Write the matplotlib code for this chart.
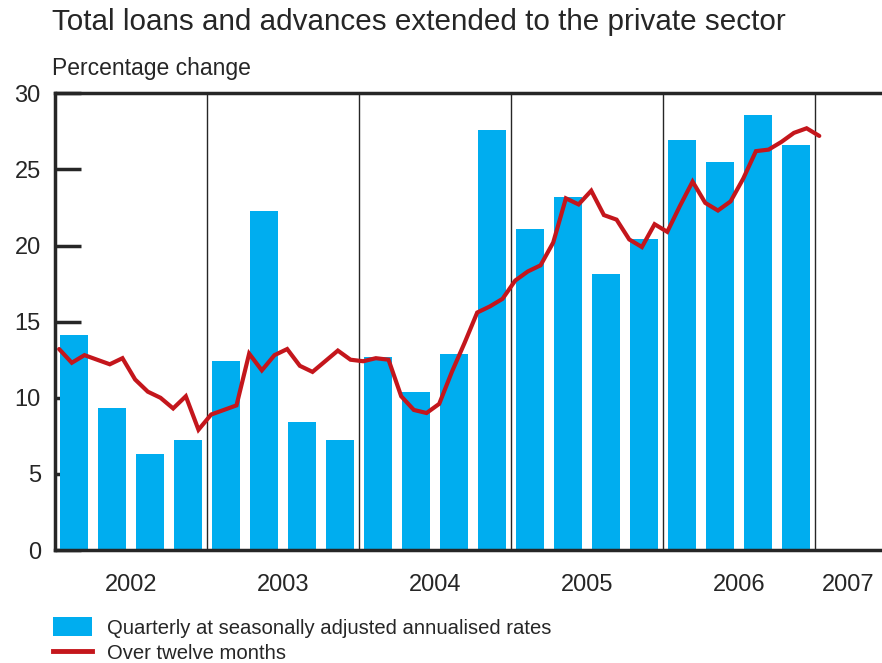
import numpy as np
import matplotlib
matplotlib.use("Agg")
import matplotlib.pyplot as plt
from matplotlib.patches import Patch
from matplotlib.lines import Line2D

plt.rcParams['font.family'] = ['Liberation Sans', 'DejaVu Sans']

years = ["2002", "2003", "2004", "2005", "2006", "2007"]

# quarterly growth, seasonally adjusted annualised (2002Q1 .. 2006Q4)
quarterly = [14.1, 9.3, 6.3, 7.2,
             12.4, 22.3, 8.4, 7.2,
             12.7, 10.4, 12.9, 27.6,
             21.1, 23.2, 18.1, 20.4,
             26.9, 25.5, 28.6, 26.6]

# twelve-month growth, monthly (Jan 2002 .. Jan 2007)
twelve_month = [13.2, 12.3, 12.8, 12.5, 12.2, 12.6, 11.2, 10.4, 10.0, 9.3, 10.1, 7.9,
                8.9, 9.2, 9.5, 12.9, 11.8, 12.8, 13.2, 12.1, 11.7, 12.4, 13.1, 12.5,
                12.4, 12.6, 12.5, 10.1, 9.2, 9.0, 9.6, 11.7, 13.6, 15.6, 16.0, 16.5,
                17.7, 18.3, 18.7, 20.2, 23.1, 22.7, 23.6, 22.0, 21.7, 20.4, 19.9, 21.4,
                20.9, 22.6, 24.2, 22.8, 22.3, 22.9, 24.4, 26.2, 26.3, 26.8, 27.4, 27.7,
                27.2]

bar_color = "#00ADEF"
line_color = "#C4161C"
ink = "#262626"

fig = plt.figure(figsize=(8.82, 6.63), dpi=100)
ax = fig.add_axes([0.062, 0.1704, 0.938, 0.6889])

# x axis in months from January 2002
q_x = np.arange(len(quarterly)) * 3 + 1.5
m_x = np.arange(len(twelve_month)) + 0.35

ax.bar(q_x, quarterly, width=2.2, color=bar_color, zorder=2)
ax.plot(m_x, twelve_month, color=line_color, lw=3.0, solid_joinstyle="miter",
        solid_capstyle="round", zorder=3)

for i in range(1, len(years)):
    ax.axvline(i * 12, color=ink, lw=1.0, zorder=1)

ax.set_xlim(0, 65.3)
ax.set_ylim(0, 30)
ax.set_yticks([0, 5, 10, 15, 20, 25, 30])
ax.tick_params(axis="y", direction="in", length=19, width=2.5, color=ink,
               labelsize=17, labelcolor=ink, pad=10)
ax.set_xticks([])

for s in ["left", "bottom", "top"]:
    ax.spines[s].set_linewidth(2.5)
    ax.spines[s].set_color(ink)
ax.spines["right"].set_visible(False)

# year labels centred under each visible year
xmax = ax.get_xlim()[1]
for i, y in enumerate(years):
    left = i * 12
    right = min((i + 1) * 12, xmax)
    ax.text((left + right) / 2, -2.3, y, ha="center", va="center",
            fontsize=17, color=ink)

fig.text(0.059, 0.967, "Total loans and advances extended to the private sector",
         fontsize=21.3, color=ink, ha="left", va="center")
fig.text(0.059, 0.896, "Percentage change", fontsize=16.5, color=ink,
         ha="left", va="center")

handles = [Patch(facecolor=bar_color, edgecolor="none"),
           Line2D([0], [0], color=line_color, lw=3.5)]
labels = ["Quarterly at seasonally adjusted annualised rates", "Over twelve months"]
fig.legend(handles, labels, loc="upper left", bbox_to_anchor=(53 / 882, 1 - 617 / 663),
           frameon=False, fontsize=14.6, handlelength=1.92, handleheight=1.1,
           labelspacing=0.25, handletextpad=0.74, borderpad=0, borderaxespad=0,
           labelcolor=ink)

fig.savefig("out.png", dpi=100)
